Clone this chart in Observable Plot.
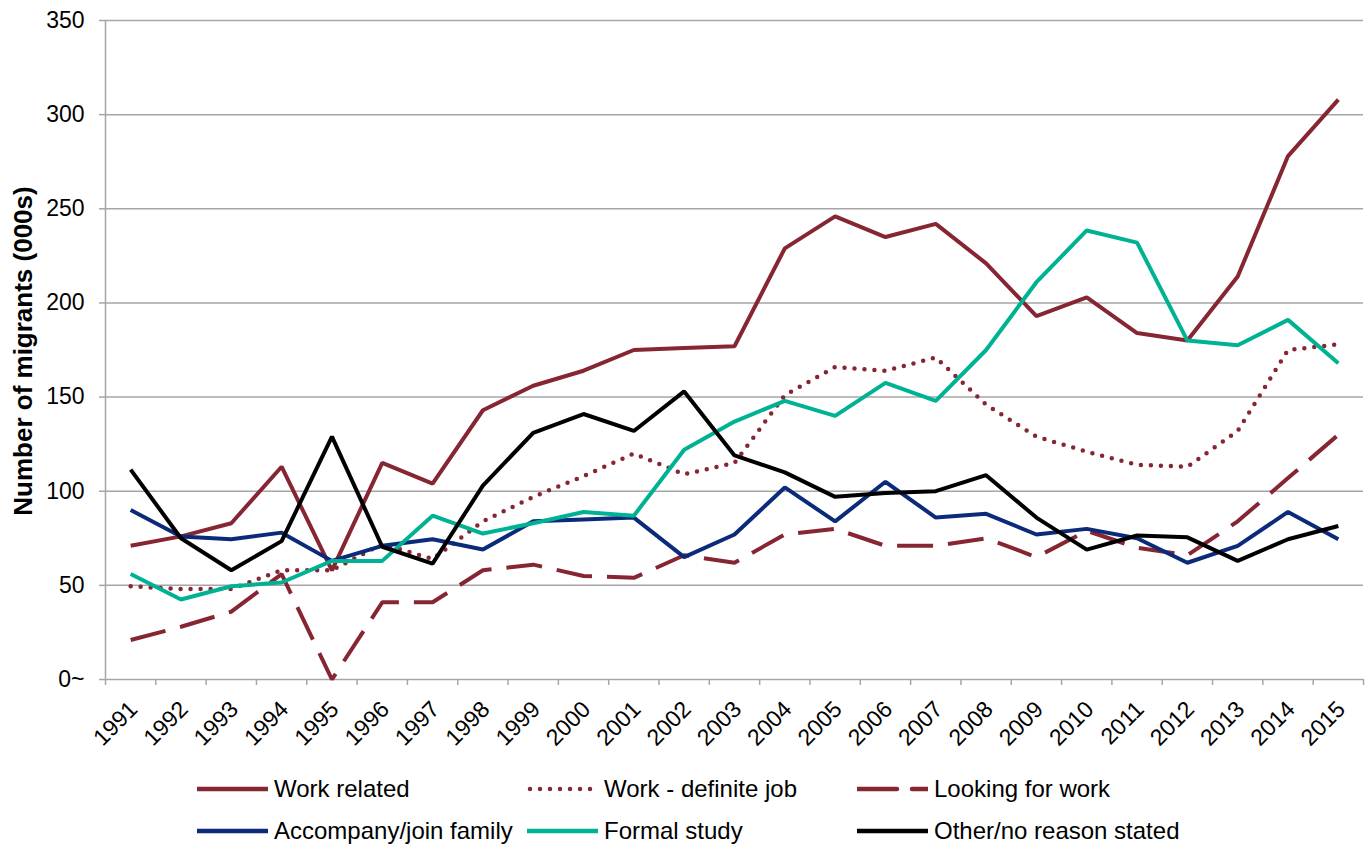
<!DOCTYPE html>
<html>
<head>
<meta charset="utf-8">
<script src="https://cdn.jsdelivr.net/npm/d3@7"></script>
<script src="https://cdn.jsdelivr.net/npm/@observablehq/plot@0.6"></script>
<style>
  html, body { margin: 0; padding: 0; background: #fff; }
  body { width: 1365px; height: 844px; overflow: hidden; font-family: "Liberation Sans", Arial, sans-serif; }
  #chart svg { display: block; }
  .legend { padding-top: 3px; padding-left: 197px; }
  .row { display: flex; height: 42px; align-items: center; }
  .item { width: 330px; display: flex; align-items: center; font-size: 24px; color: #000; }
  .item svg { margin-right: 6px; flex: none; }
</style>
</head>
<body>
<div id="chart"></div>
<div class="legend" id="legend"></div>
<script>
const years = [1991,1992,1993,1994,1995,1996,1997,1998,1999,2000,2001,2002,2003,2004,2005,2006,2007,2008,2009,2010,2011,2012,2013,2014,2015];

const workRelated   = [71, 76, 83, 113, 58, 115, 104, 143, 156, 164, 175, 176, 177, 229, 246, 235, 242, 221, 193, 203, 184, 180, 214, 278, 308];
const workDefinite  = [49.5, 48, 48, 58, 58, 72, 64, 84, 97, 108, 120, 109, 115, 151, 166, 164, 171, 146, 129, 121, 114, 113, 132, 175, 178];
const lookingWork   = [21, 28, 36, 56, 0, 41, 41, 58, 61, 55, 54, 66, 62, 77, 80, 71, 71, 75, 65, 79, 70, 66, 84, 107, 130];
const accompany     = [90, 76, 74.5, 78, 63, 71, 74.5, 69, 84, 85, 86, 65, 77, 102, 84, 105, 86, 88, 77, 80, 75, 62, 71, 89, 74.5];
const formalStudy   = [56, 42.5, 49.5, 51.5, 63, 63, 87, 77.5, 83, 89, 87, 122, 137, 148, 140, 157.5, 148, 175, 211, 238.5, 232, 180, 177.5, 191, 168];
const otherReason   = [111.5, 75, 58, 73.5, 129, 70.5, 61.5, 103, 131, 141, 132, 153, 119, 110, 97, 99, 100, 108.5, 86, 69, 76.5, 75.5, 63, 74.5, 81.5];

const seriesNames  = ["Work related", "Work - definite job", "Looking for work", "Accompany/join family", "Formal study", "Other/no reason stated"];
const seriesValues = [workRelated, workDefinite, lookingWork, accompany, formalStudy, otherReason];
const seriesColors = ["#862633", "#862633", "#862633", "#0b2a7a", "#00b294", "#000000"];
const seriesDash   = [null, "0,10", "36,15", null, null, null];

const yTicks  = [0, 50, 100, 150, 200, 250, 300, 350];
const yLabels = ["0~", "50", "100", "150", "200", "250", "300", "350"];
const yTitle  = "Number of migrants (000s)";

const boundaries = years.map(y => y - 0.5).concat([years[years.length - 1] + 0.5]);
const grid = "#a6a6a6";

const lineMarks = seriesValues.map((vals, s) =>
  Plot.line(vals, {
    x: (d, i) => years[i],
    y: d => d,
    stroke: seriesColors[s],
    strokeWidth: seriesDash[s] === "0,10" ? 4.5 : 4,
    strokeDasharray: seriesDash[s] || undefined,
    strokeLinecap: seriesDash[s] === "0,10" ? "round" : "butt",
    strokeLinejoin: "miter"
  })
);

const chart = Plot.plot({
  width: 1365,
  height: 765,
  marginLeft: 105,
  marginRight: 2,
  marginTop: 20,
  marginBottom: 86,
  style: { fontFamily: "'Liberation Sans', Arial, sans-serif", fontSize: "23px", color: "#000", background: "#fff", overflow: "visible" },
  x: { type: "linear", domain: [boundaries[0], boundaries[boundaries.length - 1]], axis: null },
  y: { domain: [yTicks[0], yTicks[yTicks.length - 1]], axis: null },
  marks: [
    Plot.ruleY(yTicks, { stroke: grid, strokeWidth: 1.5 }),
    Plot.ruleX([boundaries[0]], { stroke: grid, strokeWidth: 1.5 }),
    Plot.axisY({ ticks: yTicks, tickFormat: (d, i) => yLabels[yTicks.indexOf(d)], tickSize: 6, tickPadding: 15, stroke: grid, strokeWidth: 1.5, strokeOpacity: 1, fontSize: 23, fill: "#000" }),
    Plot.axisX({ ticks: boundaries, tickFormat: () => "", tickSize: 6, stroke: grid, strokeWidth: 1.5, strokeOpacity: 1 }),
    Plot.text(years, { x: d => d, frameAnchor: "bottom", text: d => String(d), rotate: -45, textAnchor: "end", lineAnchor: "middle", dx: 3, dy: 26, fontSize: 23, fill: "#000" }),
    Plot.text([yTitle], { frameAnchor: "left", text: d => d, rotate: -90, textAnchor: "middle", dx: -82, dy: 1, fontSize: 26, fontWeight: "bold", fill: "#000" }),
    ...lineMarks
  ]
});
document.getElementById("chart").appendChild(chart);

// Legend (HTML, below the SVG)
const legend = document.getElementById("legend");
const order = [[0, 1, 2], [3, 4, 5]];
order.forEach(r => {
  const row = document.createElement("div");
  row.className = "row";
  r.forEach(s => {
    const item = document.createElement("div");
    item.className = "item";
    const dash = seriesDash[s];
    const lg = dash === "36,15" ? "40,15" : dash;
    item.innerHTML = `<svg width="71" height="12"><line x1="${dash === "0,10" ? 3 : 0}" x2="71" y1="6" y2="6" stroke="${seriesColors[s]}" stroke-width="4.5" ${lg ? `stroke-dasharray="${lg}"` : ""} stroke-linecap="round"/></svg><span>${seriesNames[s]}</span>`;
    row.appendChild(item);
  });
  legend.appendChild(row);
});
</script>
</body>
</html>
